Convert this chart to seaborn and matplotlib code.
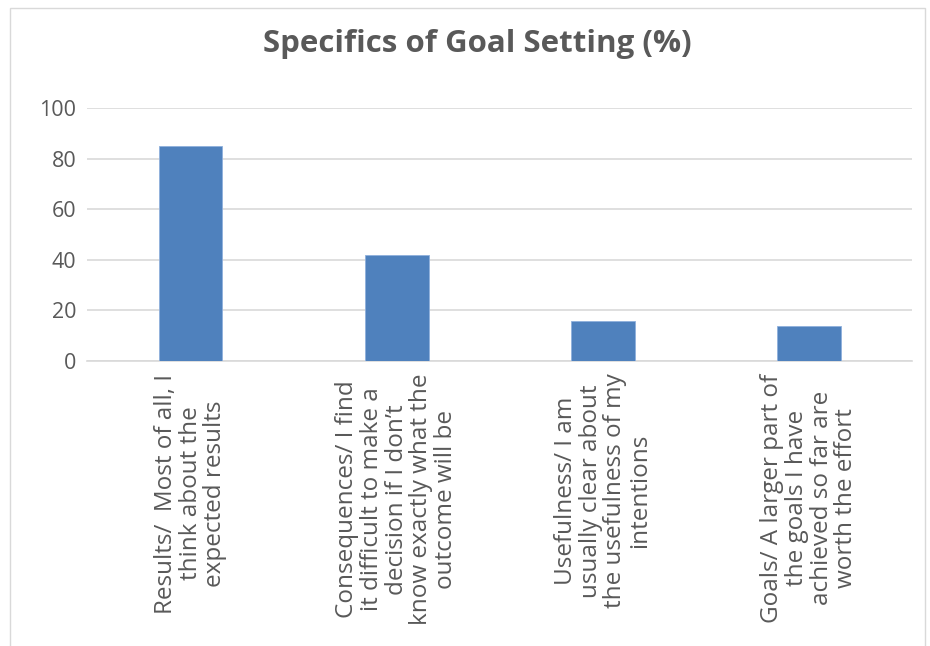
import matplotlib
matplotlib.use("Agg")
import matplotlib.pyplot as plt
import pandas as pd
import seaborn as sns
from matplotlib.patches import Rectangle

categories = [
    "Results/  Most of all, I\nthink about the\nexpected results",
    "Consequences/ I find\nit difficult to make a\ndecision if I don\u2019t\nknow exactly what the\noutcome will be",
    "Usefulness/ I am\nusually clear about\nthe usefulness of my\nintentions",
    "Goals/ A larger part of\nthe goals I have\nachieved so far are\nworth the effort",
]
values = [85, 42, 16, 14]
y_ticks = [0, 20, 40, 60, 80, 100]

sns.set_theme(style="white")
plt.rcParams["font.family"] = ["Open Sans", "DejaVu Sans"]

text_color = "#595959"
df = pd.DataFrame({"item": categories, "pct": values})

fig, ax = plt.subplots(figsize=(9.3, 6.46), dpi=100)
fig.subplots_adjust(left=0.094, right=0.981, top=0.833, bottom=0.441)

sns.barplot(data=df, x="item", y="pct", color="#4f81bd", width=0.31,
            saturation=1, edgecolor="#8fb0dc", linewidth=0.6, ax=ax, zorder=3)

ax.set_ylim(0, 100)
ax.set_yticks(y_ticks)
ax.yaxis.grid(True, color="#d9d9d9", linewidth=1.2, zorder=0)
ax.set_axisbelow(True)
for side in ["top", "right", "left"]:
    ax.spines[side].set_visible(False)
ax.spines["bottom"].set_color("#d9d9d9")
ax.spines["bottom"].set_linewidth(1.2)
ax.tick_params(axis="y", length=0, colors=text_color, labelsize=15.5, pad=8)
ax.tick_params(axis="x", length=0, colors=text_color, labelsize=17.5, pad=9)
ax.set_xticks(range(len(categories)))
ax.set_xticklabels(categories, rotation=90, ha="center", va="top",
                   multialignment="center", linespacing=1.04)
ax.set_xlabel("")
ax.set_ylabel("")

fig.suptitle("Specifics of Goal Setting (%)", x=0.513, y=0.955, fontsize=22.5,
             fontweight="bold", color=text_color)

fig.patches.append(Rectangle((0.011, -0.05), 0.984, 1.038, transform=fig.transFigure,
                             fill=False, edgecolor="#d9d9d9", linewidth=1))

fig.savefig("out.png", dpi=100)
